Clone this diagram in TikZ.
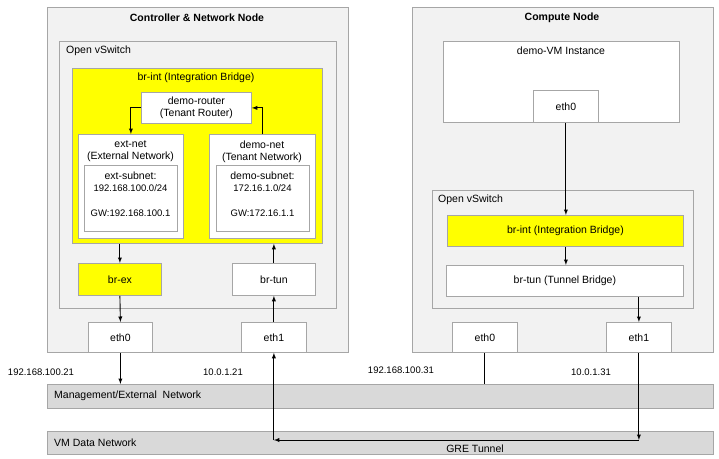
\documentclass[tikz,border=0pt]{standalone}
\usepackage{fontspec}
\setmainfont{Liberation Sans}
\usetikzlibrary{arrows,positioning}

\definecolor{hostgray}{HTML}{F2F2F2}
\definecolor{edgegray}{HTML}{A6A6A6}
\definecolor{netgray}{HTML}{D9D9D9}
\definecolor{bridgeyellow}{HTML}{FFFF00}

\newcommand{\ipfont}{\fontsize{9.5}{12}\selectfont}

\tikzset{
  boxsize/.style 2 args={minimum width=#1pt, minimum height=#2pt},
  box/.style={draw=edgegray, line width=0.8pt, anchor=north west, inner sep=0pt, align=center},
  host/.style={box, fill=hostgray},
  bridge/.style={box, fill=bridgeyellow},
  plain/.style={box, fill=white},
  net/.style={box, fill=netgray},
  txt/.style={inner sep=0pt, align=center},
  num/.style={txt, font=\ipfont},
  link/.style={->, >=latex, line width=0.9pt}
}

\begin{document}
\begin{tikzpicture}[x=1pt, y=-1pt, font=\fontsize{10.5}{12}\selectfont]
  \useasboundingbox (0,0) rectangle (719,458);

  % hosts
  \node[host, boxsize={301}{345}] (ctrl) at (47,7)  {};
  \node[host, boxsize={301}{345}] (cmp)  at (412,7) {};
  \node[txt, font=\fontsize{10.5}{12}\selectfont\bfseries] (ctrltitle) at (197,18) {Controller \& Network Node};
  \node[txt, font=\fontsize{10.5}{12}\selectfont\bfseries] (cmptitle)  at (562,18) {Compute Node};

  % controller side
  \node[host, boxsize={277}{267}]  (ctrlovs)   at (59,41)  {};
  \node[txt, anchor=west]          (ctrlovslbl) at (66,51) {Open vSwitch};
  \node[bridge, boxsize={250}{175}] (ctrlbrint) at (72,68) {};
  \node[txt]                       (ctrlbrintlbl) at (196,78) {br-int (Integration Bridge)};
  \node[plain, boxsize={110}{31}]  (router)    at (141,92) {demo-router\\(Tenant Router)};
  \node[plain, boxsize={105}{104}] (extnet)    at (78,134)  {};
  \node[txt]                       (extnetlbl) at (130.5,151.5) {ext-net\\(External Network)};
  \node[plain, boxsize={93}{66}]   (extsub)    at (84,165)  {};
  \node[txt]                       (extsubip)  at (130.5,182) {ext-subnet:\\\ipfont 192.168.100.0/24};
  \node[num]                       (extsubgw)  at (130.5,213) {GW:192.168.100.1};
  \node[plain, boxsize={106}{104}] (demonet)   at (209,134) {};
  \node[txt]                       (demonetlbl) at (262,151.5) {demo-net\\(Tenant Network)};
  \node[plain, boxsize={93}{66}]   (demosub)   at (216,165) {};
  \node[txt]                       (demosubip) at (262.5,182) {demo-subnet:\\\ipfont 172.16.1.0/24};
  \node[num]                       (demosubgw) at (262.5,213) {GW:172.16.1.1};
  \node[bridge, boxsize={83}{32}]  (brex)      at (78,263)  {br-ex};
  \node[plain, boxsize={83}{32}]   (brtun)     at (232,263) {br-tun};
  \node[plain, boxsize={64}{30}]   (ctrleth0)  at (88,322)  {eth0};
  \node[plain, boxsize={65}{30}]   (ctrleth1)  at (241,322) {eth1};

  % compute side
  \node[plain, boxsize={236}{81}]  (vm)        at (443,41)  {};
  \node[txt]                       (vmlbl)     at (561,51)  {demo-VM Instance};
  \node[plain, boxsize={65}{32}]   (vmeth0)    at (533,90)  {eth0};
  \node[host, boxsize={261}{118}]  (cmpovs)    at (432,190) {};
  \node[txt, anchor=west]          (cmpovslbl) at (438,200) {Open vSwitch};
  \node[bridge, boxsize={236}{31}] (cmpbrint)  at (447,215) {br-int (Integration Bridge)};
  \node[plain, boxsize={237}{31}]  (cmpbrtun)  at (446,265) {br-tun (Tunnel Bridge)};
  \node[plain, boxsize={65}{30}]   (cmpeth0)   at (452,322) {eth0};
  \node[plain, boxsize={65}{30}]   (cmpeth1)   at (606,322) {eth1};

  % physical networks
  \node[net, boxsize={666}{24}] (mgmt)   at (47,384) {};
  \node[txt, anchor=west]       (mgmtlbl) at (54,396) {Management/External\ \ Network};
  \node[net, boxsize={666}{23}] (vmdata) at (47,431) {};
  \node[txt, anchor=west]       (vmdatalbl) at (54,443) {VM Data Network};
  \node[txt] (grelbl) at (475,449) {GRE Tunnel};

  % addresses
  \node[num] (ctrlip0) at (41,372)  {192.168.100.21};
  \node[num] (ctrlip1) at (223,372) {10.0.1.21};
  \node[num] (cmpip0)  at (401,370) {192.168.100.31};
  \node[num] (cmpip1)  at (591,372) {10.0.1.31};

  \coordinate (grel) at (ctrleth1.south |- 0,440);
  \coordinate (grer) at (cmpeth1.south |- 0,440);

  % links
  \draw[link] (router.west) -| (extnet.north);
  \draw[link] (demonet.north) |- (router.east);
  \draw[link] (brex.north |- ctrlbrint.south) -- (brex.north);
  \draw[link] (brex.south) -- (ctrleth0.north);
  \draw[link] (ctrleth1.north) -- (brtun.south);
  \draw[link] (brtun.north) -- (brtun.north |- ctrlbrint.south);
  \draw[link] (ctrleth0.south) -- (ctrleth0.south |- mgmt.north);
  \draw[link] (vmeth0.south) -- (vmeth0.south |- cmpbrint.north);
  \draw[link] (cmpbrint.south -| vmeth0.south) -- (cmpbrtun.north -| vmeth0.south);
  \draw[link] (cmpeth1.north |- cmpbrtun.south) -- (cmpeth1.north);
  \draw[line width=0.9pt] (cmpeth0.south) -- (cmpeth0.south |- mgmt.north);
  \draw[link] (cmpeth1.south) -- (grer);
  \draw[link] (grer) -- (grel);
  \draw[link] (grel) -- (ctrleth1.south);
\end{tikzpicture}
\end{document}
